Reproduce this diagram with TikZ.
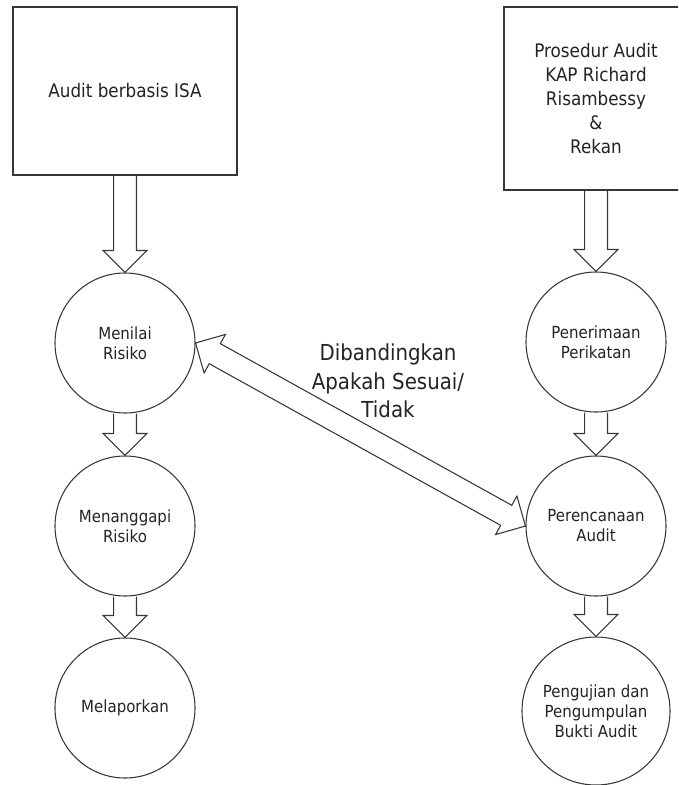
\documentclass[tikz,border=0pt]{standalone}
\usepackage{fontspec}
\setmainfont{DejaVu Sans}[FakeStretch=0.9]
\usetikzlibrary{calc}
\definecolor{LineGray}{RGB}{55, 55, 55}
\definecolor{TextGray}{RGB}{35, 35, 35}

\tikzset{
  boxnode/.style={draw=LineGray, line width=0.8pt, align=center, text=TextGray,
    font=\fontsize{14}{18}\selectfont, inner sep=0pt},
  stagenode/.style={draw=LineGray, line width=0.8pt, circle, align=center, text=TextGray,
    minimum size=105pt, inner sep=0pt, font=\fontsize{12.5}{15}\selectfont},
  arrowline/.style={draw=LineGray, line width=0.8pt, line join=miter}
}

% hollow block arrow, tip at #2
\newcommand{\blockarrow}[2]{%
  \coordinate (ba-c) at ($(#2)!16.5pt!(#1)$);
  \draw[arrowline] ($(#1)!8.6pt!90:(#2)$) -- ($(ba-c)!8.6pt!90:(#2)$)
    -- ($(ba-c)!16.5pt!90:(#2)$) -- (#2) -- ($(ba-c)!16.5pt!-90:(#2)$)
    -- ($(ba-c)!8.6pt!-90:(#2)$) -- ($(#1)!8.6pt!-90:(#2)$);}

% hollow block arrow, tips at both ends
\newcommand{\doubleblockarrow}[2]{%
  \coordinate (da-a) at ($(#1)!16.5pt!(#2)$);
  \coordinate (da-b) at ($(#2)!16.5pt!(#1)$);
  \draw[arrowline] (#1) -- ($(da-a)!16.5pt!90:(#2)$) -- ($(da-a)!8.6pt!90:(#2)$)
    -- ($(da-b)!8.6pt!90:(#2)$) -- ($(da-b)!16.5pt!90:(#2)$) -- (#2)
    -- ($(da-b)!16.5pt!-90:(#2)$) -- ($(da-b)!8.6pt!-90:(#2)$)
    -- ($(da-a)!8.6pt!-90:(#2)$) -- ($(da-a)!16.5pt!-90:(#2)$) -- cycle;}

\begin{document}
\begin{tikzpicture}[x=0.75pt, y=0.75pt]
    \useasboundingbox (0,0) rectangle (678,-785);
    \clip (0,0) rectangle (678,-785);

    % Top boxes
    \node[boxnode, minimum width=168pt, minimum height=126pt] (isa) at (125,-91) {Audit berbasis ISA};
    \node[boxnode, minimum width=138pt, minimum height=137.25pt] (prosedur) at (596,-98.5)
      {Prosedur Audit\\KAP Richard\\Risambessy\\\&\\Rekan};

    % ISA steps
    \node[stagenode] (menilai) at (125,-343) {Menilai\\Risiko};
    \node[stagenode] (menanggapi) at (125,-526) {Menanggapi\\Risiko};
    \node[stagenode] (melaporkan) at (125,-708) {Melaporkan};

    % KAP steps
    \node[stagenode] (penerimaan) at (596,-342) {Penerimaan\\Perikatan};
    \node[stagenode] (perencanaan) at (596,-526) {Perencanaan\\Audit};
    \node[stagenode, minimum size=111pt] (pengujian) at (596,-711)
      {Pengujian dan\\Pengumpulan\\Bukti Audit};

    % Arrows down
    \blockarrow{isa.south}{menilai.north}
    \blockarrow{menilai.south}{menanggapi.north}
    \blockarrow{menanggapi.south}{melaporkan.north}
    \blockarrow{prosedur.south}{penerimaan.north}
    \blockarrow{penerimaan.south}{perencanaan.north}
    \blockarrow{perencanaan.south}{pengujian.north}

    % Comparison
    \doubleblockarrow{menilai.east}{perencanaan.west}
    \node[align=center, text=TextGray, font=\fontsize{16.5}{21.4}\selectfont] (banding) at (388,-381)
      {Dibandingkan\\Apakah Sesuai/\\Tidak};
  \end{tikzpicture}
\end{document}
